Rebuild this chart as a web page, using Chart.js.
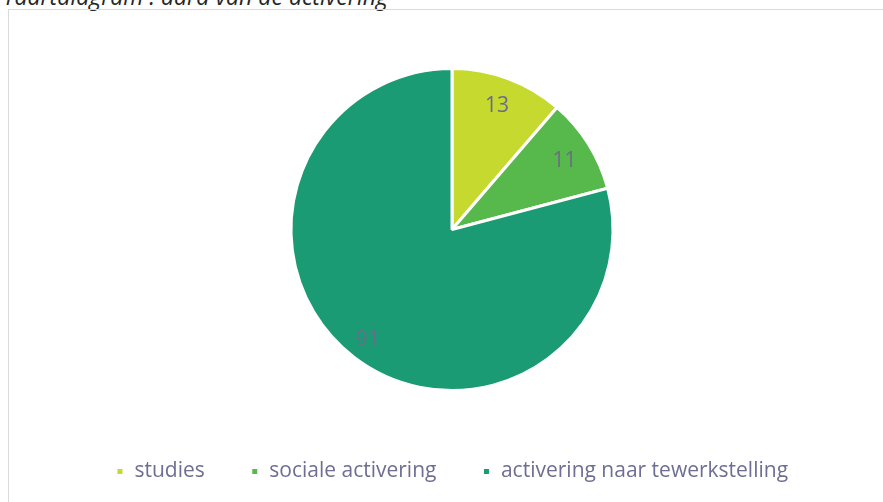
<!DOCTYPE html>
<html>
<head>
<meta charset="utf-8">
<script src="https://cdn.jsdelivr.net/npm/chart.js@4"></script>
<style>
  html, body { margin: 0; padding: 0; background: #fff; overflow: hidden; }
  #title {
    position: absolute; left: 3px; top: -15px;
    font: italic 23px/23px "Open Sans", sans-serif; color: #262626; white-space: nowrap;
  }
  #frame {
    position: absolute; left: 8px; top: 9px; width: 880px; height: 500px;
    border: 1px solid #d9d9de;
  }
  #wrap { position: absolute; left: 9px; top: 10px; width: 874px; height: 492px; }
</style>
</head>
<body>
<div id="title">Taartdiagram : aard van de activering</div>
<div id="frame"></div>
<div id="wrap"><canvas id="pieChart"></canvas></div>
<script>
// Categories and values
const labels = ["studies", "sociale activering", "activering naar tewerkstelling"];
const values = [13, 11, 91];
const colors = ["#c5d92e", "#57b84b", "#1b9b74"];

// Draw the value inside each slice
const sliceLabels = {
  id: "sliceLabels",
  afterDatasetsDraw(chart) {
    const ctx = chart.ctx;
    const meta = chart.getDatasetMeta(0);
    ctx.save();
    ctx.font = '21px "Open Sans", sans-serif';
    ctx.fillStyle = "#6b6b8c";
    ctx.textAlign = "center";
    ctx.textBaseline = "middle";
    meta.data.forEach((arc, i) => {
      const mid = (arc.startAngle + arc.endAngle) / 2;
      const r = arc.outerRadius * 0.84;
      ctx.fillText(values[i], arc.x + Math.cos(mid) * r - 2, arc.y + Math.sin(mid) * r + 3);
    });
    ctx.restore();
  }
};

const ctx = document.getElementById("pieChart").getContext("2d");
new Chart(ctx, {
  type: "pie",
  data: {
    labels: labels,
    datasets: [{
      data: values,
      backgroundColor: colors,
      borderColor: "#ffffff",
      borderWidth: 3,
      radius: 161
    }]
  },
  options: {
    responsive: true,
    maintainAspectRatio: false,
    animation: false,
    layout: { padding: { left: 12, right: 0, top: 34, bottom: 10 } },
    plugins: {
      tooltip: { enabled: false },
      legend: {
        position: "bottom",
        labels: {
          color: "#6e6e94",
          font: { family: "Open Sans", size: 21 },
          boxWidth: 8,
          boxHeight: 8,
          padding: 46
        }
      }
    }
  },
  plugins: [sliceLabels]
});
</script>
</body>
</html>
